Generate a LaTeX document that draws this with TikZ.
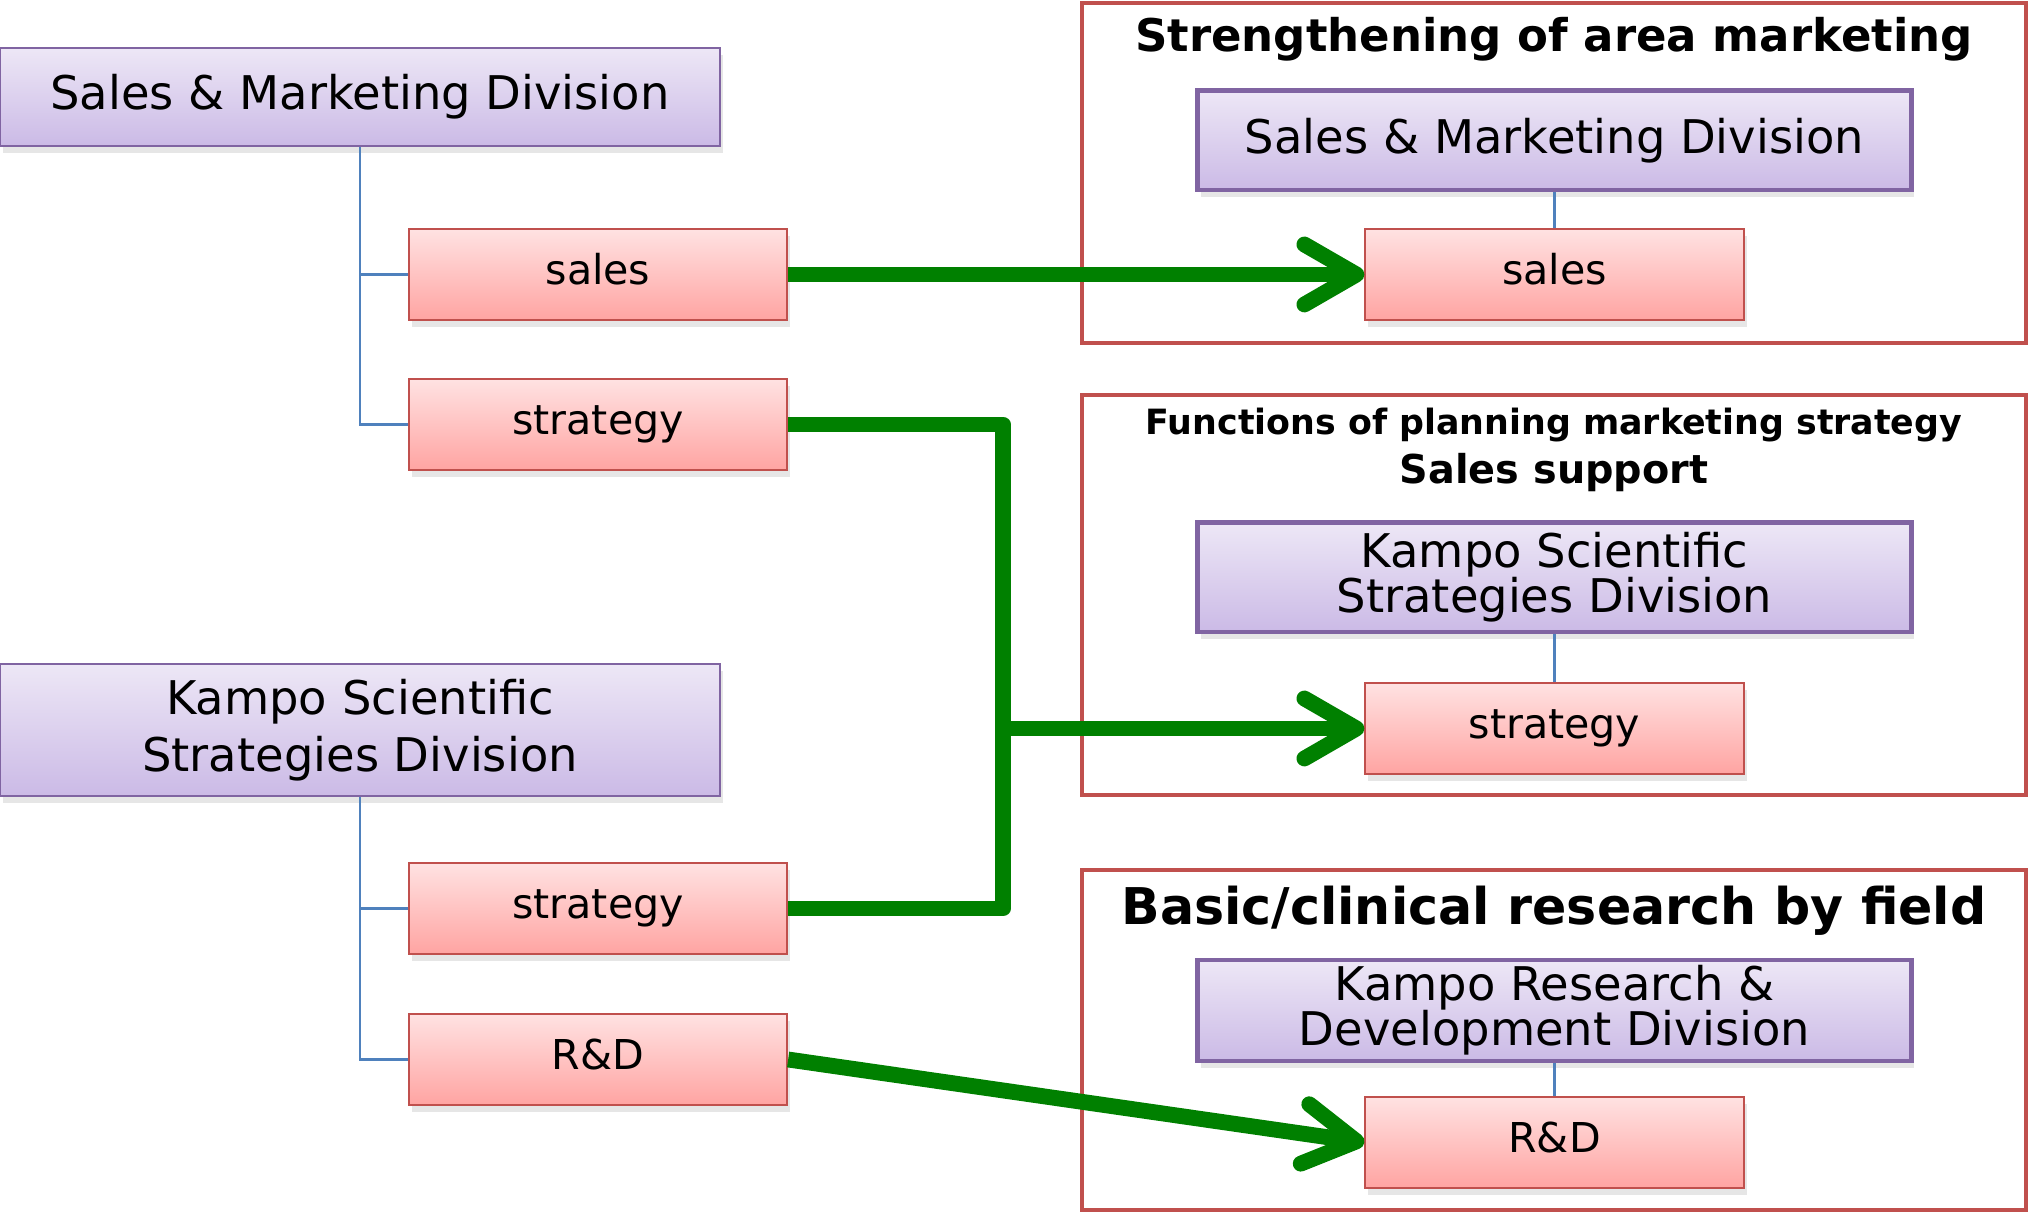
\documentclass[tikz,border=0pt]{standalone}
\usepackage{fontspec}
\setmainfont{DejaVu Sans}
\usetikzlibrary{arrows.meta,shadows}

\definecolor{divtop}{RGB}{237,231,246}
\definecolor{divbot}{RGB}{203,186,230}
\definecolor{divline}{RGB}{128,100,162}
\definecolor{unittop}{RGB}{255,226,226}
\definecolor{unitbot}{RGB}{255,164,162}
\definecolor{unitline}{RGB}{192,80,77}
\definecolor{treeline}{RGB}{79,129,189}
\definecolor{frameline}{RGB}{192,80,77}
\definecolor{flowgreen}{RGB}{0,128,0}

\begin{document}
\begin{tikzpicture}[x=0.01cm,y=-0.01cm,
    every node/.style={inner sep=0pt,align=center,font=\fontsize{13.2}{16.2}\selectfont},
    division/.style={draw=divline,line width=0.5pt,top color=divtop,bottom color=divbot,
        minimum width=7.2cm,drop shadow={opacity=0.2,shadow xshift=0.3mm,shadow yshift=-0.7mm}},
    newdivision/.style={division,line width=1.4pt,minimum width=7.13cm,
        font=\fontsize{13.2}{12.8}\selectfont},
    unit/.style={draw=unitline,line width=0.6pt,top color=unittop,bottom color=unitbot,
        minimum width=3.78cm,minimum height=0.91cm,text height=0.75em,text depth=0.2em,
        font=\fontsize{11.7}{14}\selectfont,
        drop shadow={opacity=0.2,shadow xshift=0.3mm,shadow yshift=-0.7mm}},
    tree/.style={draw=treeline,line width=0.6pt},
    frame/.style={draw=frameline,line width=1.15pt},
    heading/.style={anchor=base,font=\bfseries\fontsize{12.8}{14}\selectfont},
    flowline/.style={draw=flowgreen,line width=4.5pt,line join=round},
    flow/.style={flowline,-{Straight Barb[length=5.2mm,width=6mm,round]}}]

\useasboundingbox (0,0) rectangle (2029,1213);

% ancienne organisation (gauche)
\node[division,minimum height=0.98cm] (smdL) at (360,97) {Sales \& Marketing Division};
\node[unit] (salesL) at (598,274.5) {sales};
\node[unit] (stratL) at (598,424.5) {strategy};
\draw[tree] (smdL.south) |- (salesL.west);
\draw[tree] (smdL.south) |- (stratL.west);

\node[division,minimum height=1.32cm] (kssdL) at (360,730) {Kampo Scientific\\Strategies Division};
\node[unit] (strat2L) at (598,908.5) {strategy};
\node[unit] (rdL) at (598,1059.5) {R\&D};
\draw[tree] (kssdL.south) |- (strat2L.west);
\draw[tree] (kssdL.south) |- (rdL.west);

% nouvelle organisation (droite)
\draw[frame] (1082,3) rectangle (2026,343);
\node[heading] (title1) at (1554,52) {Strengthening of area marketing};
\node[newdivision,minimum height=0.99cm] (smdR) at (1554.5,140.5) {Sales \& Marketing Division};
\node[unit] (salesR) at (1554.5,274.5) {sales};
\draw[tree] (smdR.south) -- (salesR.north);

\draw[frame] (1082,395) rectangle (2026,795);
\node[heading,font=\bfseries\fontsize{9.9}{11}\selectfont] (title2a) at (1554,435) {Functions of planning marketing strategy};
\node[heading,font=\bfseries\fontsize{11.3}{12}\selectfont] (title2b) at (1554,484) {Sales support};
\node[newdivision,minimum height=1.09cm] (kssdR) at (1554.5,577.5) {Kampo Scientific\\Strategies Division};
\node[unit] (stratR) at (1554.5,728.5) {strategy};
\draw[tree] (kssdR.south) -- (stratR.north);

\draw[frame] (1082,870) rectangle (2026,1210);
\node[heading,font=\bfseries\fontsize{14.4}{15}\selectfont] (title3) at (1554,925) {Basic/clinical research by field};
\node[newdivision,minimum height=1.01cm] (krddR) at (1554.5,1010.5) {Kampo Research \&\\Development Division};
\node[unit] (rdR) at (1554.5,1142.5) {R\&D};
\draw[tree] (krddR.south) -- (rdR.north);

% flèches de transfert
\coordinate (jn) at (1003,728.5);
\draw[flow] (salesL.east) -- (salesR.west);
\draw[flowline] (stratL.east) -| (jn) |- (strat2L.east);
\draw[flow] (jn) -- (stratR.west);
\draw[flow] (rdL.east) -- (rdR.west);

\end{tikzpicture}
\end{document}
